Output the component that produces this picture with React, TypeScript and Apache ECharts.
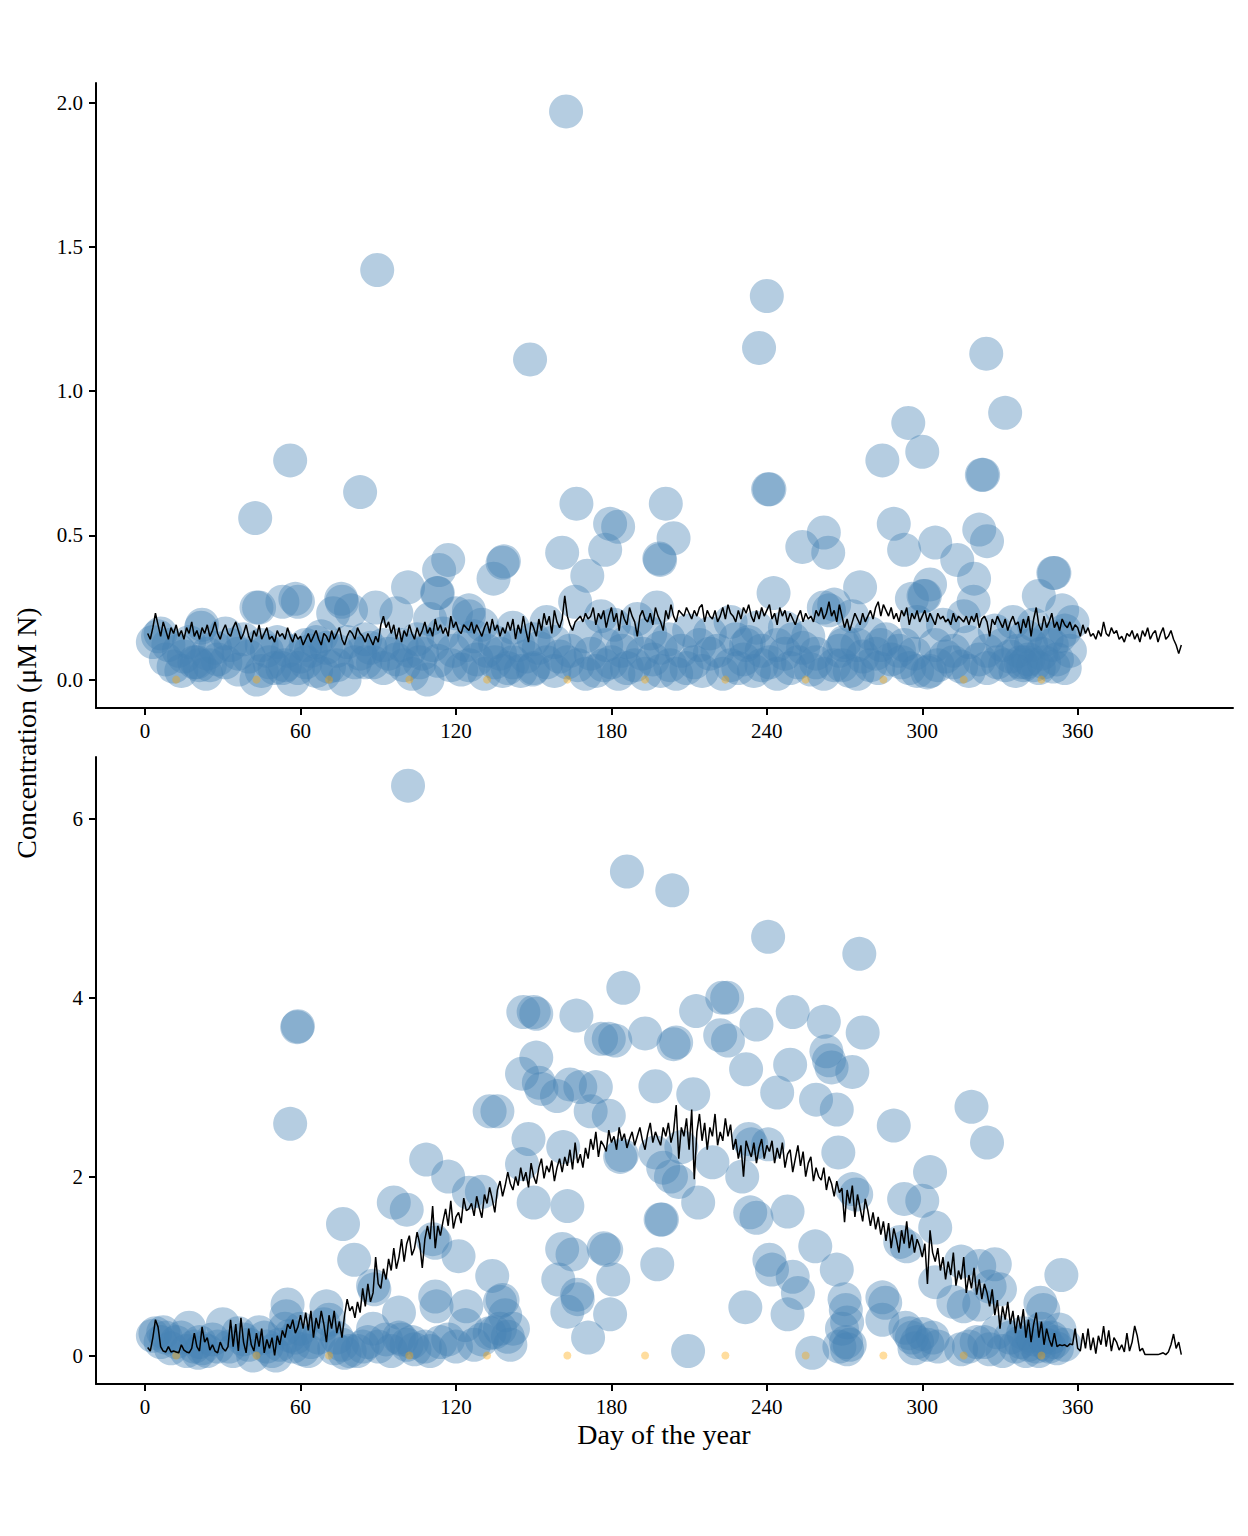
import React, { useEffect, useRef } from 'react';
import * as echarts from 'echarts';

// x ticks (day of year) and y ticks for each panel
const dayTicks = [0, 60, 120, 180, 240, 300, 360];
const topTicks = [0, 0.5, 1, 1.5, 2];
const bottomTicks = [0, 2, 4, 6];

// days of the small orange markers at zero
const markerDays = [12, 43, 71, 102, 132, 163, 193, 224, 255, 285, 316, 346];

// daily model line, top panel (days 1..400)
const topLine = [
  0.16, 0.14, 0.18, 0.23, 0.19, 0.15, 0.2, 0.17, 0.14, 0.18, 0.16, 0.19, 0.15, 0.17, 0.14, 0.18, 0.16, 0.2, 0.15, 0.17,
  0.14, 0.18, 0.16, 0.19, 0.15, 0.17, 0.2, 0.16, 0.14, 0.17, 0.19, 0.16, 0.15, 0.18, 0.2, 0.17, 0.14, 0.16, 0.19, 0.15,
  0.13, 0.17, 0.15, 0.19, 0.14, 0.16, 0.18, 0.14, 0.15, 0.13, 0.17, 0.15, 0.16, 0.14, 0.18, 0.15, 0.13, 0.16, 0.14, 0.15,
  0.12, 0.14, 0.16, 0.13, 0.15, 0.17, 0.14, 0.12, 0.16, 0.15, 0.13, 0.17, 0.14, 0.16, 0.18, 0.14, 0.12, 0.15, 0.17, 0.16,
  0.14, 0.18, 0.16, 0.15, 0.13, 0.16, 0.14, 0.12, 0.15, 0.13, 0.19, 0.22, 0.18, 0.2, 0.16, 0.19, 0.14, 0.18, 0.13, 0.17,
  0.15, 0.19, 0.16, 0.14, 0.18, 0.15, 0.17, 0.2, 0.16, 0.18, 0.15, 0.21, 0.17, 0.19, 0.16, 0.18, 0.15, 0.22, 0.18, 0.2,
  0.17, 0.16, 0.19, 0.18, 0.17, 0.2, 0.16, 0.19, 0.17, 0.15, 0.18, 0.2, 0.16, 0.21, 0.17, 0.19, 0.15, 0.18, 0.16, 0.2,
  0.17, 0.21, 0.14, 0.19, 0.16, 0.22, 0.17, 0.13, 0.2, 0.18, 0.15, 0.21, 0.17, 0.23, 0.19, 0.22, 0.16, 0.24, 0.2, 0.18,
  0.21, 0.29, 0.22, 0.19, 0.17, 0.2, 0.21, 0.22, 0.2, 0.23, 0.21, 0.22, 0.25, 0.19, 0.23, 0.21, 0.24, 0.18, 0.22, 0.25,
  0.2, 0.23, 0.17, 0.24, 0.21, 0.19, 0.25, 0.22, 0.2, 0.15, 0.22, 0.24, 0.21, 0.2, 0.23, 0.19, 0.25, 0.22, 0.2, 0.17,
  0.24, 0.21, 0.26, 0.22, 0.2, 0.24, 0.23, 0.22, 0.25, 0.23, 0.21, 0.24, 0.22, 0.25, 0.26, 0.2, 0.24, 0.22, 0.21, 0.24,
  0.2, 0.22, 0.25, 0.21, 0.26, 0.23, 0.22, 0.2, 0.24, 0.21, 0.25, 0.23, 0.26, 0.22, 0.2, 0.24, 0.21, 0.25, 0.22, 0.24,
  0.26, 0.21, 0.23, 0.19, 0.25, 0.22, 0.24, 0.2, 0.23, 0.21, 0.19, 0.22, 0.24, 0.2, 0.23, 0.21, 0.22, 0.2, 0.24, 0.22,
  0.25, 0.21, 0.23, 0.27, 0.22, 0.24, 0.2, 0.26, 0.22, 0.18, 0.21, 0.17, 0.2, 0.23, 0.21, 0.19, 0.23, 0.2, 0.22, 0.24,
  0.21, 0.25, 0.27, 0.22, 0.26, 0.24, 0.22, 0.25, 0.21, 0.23, 0.2, 0.24, 0.22, 0.25, 0.19, 0.23, 0.21, 0.24, 0.2, 0.22,
  0.24, 0.2, 0.23, 0.21, 0.19, 0.23, 0.21, 0.22, 0.2, 0.21, 0.19, 0.23, 0.2, 0.22, 0.21, 0.2, 0.22, 0.19, 0.22, 0.2,
  0.23, 0.18, 0.21, 0.22, 0.2, 0.15, 0.21, 0.19, 0.22, 0.2, 0.18, 0.21, 0.17, 0.2, 0.22, 0.19, 0.2, 0.16, 0.21, 0.18,
  0.22, 0.15, 0.21, 0.25, 0.19, 0.17, 0.22, 0.18, 0.2, 0.23, 0.18, 0.2, 0.17, 0.21, 0.19, 0.18, 0.2, 0.17, 0.19, 0.18,
  0.15, 0.19, 0.16, 0.18, 0.15, 0.16, 0.14, 0.17, 0.15, 0.2, 0.16, 0.15, 0.18, 0.16, 0.17, 0.14, 0.15, 0.13, 0.16, 0.15,
  0.17, 0.14, 0.16, 0.13, 0.17, 0.15, 0.18, 0.14, 0.16, 0.17, 0.13, 0.16, 0.18, 0.14, 0.15, 0.17, 0.14, 0.12, 0.09, 0.12,
];

// daily model line, bottom panel (days 1..400)
const bottomLine = [
  0.09, 0.05, 0.2, 0.4, 0.32, 0.1, 0.05, 0.04, 0.1, 0.04, 0.05, 0.04, 0.03, 0.12, 0.06, 0.04, 0.03, 0.08, 0.25, 0.1,
  0.05, 0.32, 0.15, 0.2, 0.06, 0.12, 0.05, 0.03, 0.15, 0.08, 0.05, 0.1, 0.4, 0.1, 0.35, 0.05, 0.42, 0.15, 0.03, 0.3,
  0.12, 0.05, 0.25, 0.1, 0.3, 0.03, 0.18, 0.08, 0.2, 0.0, 0.22, 0.12, 0.28, 0.2, 0.35, 0.3, 0.4, 0.25, 0.32, 0.45,
  0.3, 0.48, 0.28, 0.5, 0.2, 0.42, 0.3, 0.5, 0.35, 0.15, 0.45, 0.3, 0.5, 0.25, 0.38, 0.2, 0.45, 0.63, 0.5, 0.55,
  0.42, 0.6, 0.48, 0.75, 0.55, 0.8, 0.6, 0.7, 1.1, 0.8, 0.75, 0.97, 0.85, 1.08, 0.95, 1.2, 0.97, 1.1, 1.3, 1.05,
  1.25, 1.34, 1.12, 1.2, 1.38, 1.25, 0.98, 1.3, 1.45, 1.3, 1.67, 1.2, 1.45, 1.34, 1.5, 1.64, 1.45, 1.73, 1.42, 1.55,
  1.6, 1.48, 1.76, 1.62, 1.64, 1.7, 1.56, 1.78, 1.65, 1.54, 1.8, 1.7, 1.88, 1.75, 1.6, 1.85, 1.95, 1.78, 1.9, 2.05,
  1.92, 1.85, 2.0, 1.9, 2.1, 1.95, 2.05, 1.88, 2.15, 2.0, 1.92, 2.1, 2.2, 1.98, 2.12, 2.05, 2.18, 1.95, 2.1, 2.2,
  2.05, 2.22, 2.12, 2.3, 2.08, 2.38, 2.15, 2.25, 2.1, 2.32, 2.2, 2.42, 2.3, 2.5, 2.22, 2.4, 2.35, 2.28, 2.52, 2.38,
  2.45, 2.3, 2.55, 2.4, 2.48, 2.32, 2.42, 2.5, 2.35, 2.45, 2.55, 2.4, 2.3, 2.48, 2.6, 2.38, 2.5, 2.42, 2.35, 2.55,
  2.45, 2.6, 2.38, 2.5, 2.8, 2.2, 2.55, 2.45, 2.65, 2.3, 2.75, 1.97, 2.5, 2.7, 2.4, 2.6, 2.3, 2.55, 2.45, 2.7,
  2.35, 2.5, 2.4, 2.65, 2.45, 2.58, 2.3, 2.42, 2.2, 2.35, 2.0, 2.4, 2.3, 2.22, 2.38, 2.15, 2.32, 2.42, 2.2, 2.35,
  2.28, 2.4, 2.15, 2.32, 2.2, 2.38, 2.1, 2.25, 2.3, 2.05, 2.2, 2.35, 2.12, 2.28, 2.0, 2.15, 2.22, 1.95, 2.1, 2.0,
  1.96, 2.1, 1.85, 2.0, 1.92, 1.78, 1.95, 1.82, 1.87, 1.49, 1.85, 1.7, 1.9, 1.55, 1.8, 1.65, 1.5, 1.75, 1.62, 1.45,
  1.6, 1.41, 1.55, 1.35, 1.5, 1.28, 1.48, 1.2, 1.42, 1.3, 1.15, 1.4, 1.25, 1.5, 1.2, 1.35, 1.15, 1.3, 1.22, 1.1,
  1.25, 0.8, 1.4, 1.15, 1.05, 1.2, 0.95, 1.1, 0.85, 1.05, 0.9, 1.15, 0.78, 0.95, 0.85, 1.1, 0.7, 0.9, 0.75, 0.98,
  0.68, 0.85, 0.63, 0.8, 0.7, 0.55, 0.74, 0.45, 0.62, 0.3, 0.55, 0.4, 0.6, 0.35, 0.5, 0.25, 0.45, 0.3, 0.52, 0.2,
  0.4, 0.15, 0.35, 0.48, 0.2, 0.38, 0.12, 0.3, 0.18, 0.1, 0.25, 0.1, 0.12, 0.11, 0.12, 0.1, 0.13, 0.12, 0.3, 0.08,
  0.05, 0.25, 0.08, 0.3, 0.06, 0.2, 0.02, 0.22, 0.12, 0.33, 0.1, 0.28, 0.05, 0.2, 0.15, 0.06, 0.12, 0.04, 0.25, 0.05,
  0.15, 0.33, 0.22, 0.05, 0.08, 0.01, 0.01, 0.01, 0.01, 0.01, 0.01, 0.02, 0.03, 0.01, 0.04, 0.12, 0.24, 0.08, 0.15, 0.01,
];

// observations [day, concentration], top panel
const topObs = [
  [162.5, 1.97], [89.6, 1.42], [148.6, 1.11], [240, 1.33], [237, 1.15], [324.7, 1.13], [332, 0.925], [294.6, 0.89],
  [300, 0.79], [284.6, 0.76], [56, 0.76], [323, 0.71], [323.5, 0.71], [240.5, 0.66], [241, 0.66], [42.5, 0.56],
  [83, 0.65], [166.5, 0.61], [201, 0.61], [204, 0.49], [182.6, 0.53], [179.5, 0.54], [177.6, 0.45], [161, 0.44],
  [198.8, 0.415], [198.5, 0.42], [170.7, 0.36], [289, 0.54], [293, 0.45], [305, 0.475], [322, 0.52], [325, 0.48],
  [313.5, 0.415], [320, 0.35], [262, 0.51], [253.7, 0.46], [263.7, 0.44], [276, 0.32], [138, 0.405], [138.5, 0.41],
  [134.5, 0.35], [117, 0.415], [113.5, 0.38], [112.7, 0.3], [113, 0.3], [101.5, 0.32], [125, 0.24], [350.6, 0.37],
  [351, 0.37], [345, 0.29], [354, 0.24], [303, 0.33], [296, 0.28], [300.5, 0.29], [301, 0.29], [319.8, 0.27],
  [242.6, 0.3], [166, 0.27], [197.6, 0.25], [75.7, 0.28], [76, 0.27], [43, 0.25], [44, 0.25], [53, 0.27],
  [58, 0.28], [59, 0.27], [72.6, 0.23], [79.5, 0.24], [89, 0.25], [97, 0.23], [110, 0.21], [120, 0.23], [125, 0.22],
  [5, 0.15], [6, 0.16], [21.6, 0.18], [22, 0.19], [31, 0.16], [13, 0.1], [27, 0.11], [36, 0.09], [45, 0.12],
  [62, 0.12], [66, 0.13], [70, 0.11], [85, 0.14], [92, 0.12], [105, 0.14], [115, 0.16], [127, 0.15], [130, 0.19],
  [135, 0.13], [142, 0.18], [150, 0.14], [155, 0.2], [170, 0.15], [176, 0.22], [181, 0.19], [186, 0.13], [190, 0.21],
  [195, 0.16], [202, 0.14], [210, 0.17], [218, 0.16], [226, 0.2], [232, 0.12], [233, 0.13], [236, 0.18], [247, 0.18],
  [250, 0.14], [256, 0.15], [262, 0.25], [264, 0.24], [266, 0.26], [269.5, 0.12], [270, 0.13], [273, 0.22],
  [280, 0.16], [284, 0.12], [291, 0.1], [298, 0.2], [308, 0.19], [316, 0.22], [328, 0.17], [335, 0.2], [340, 0.15],
  [343, 0.19], [348, 0.14], [355, 0.17], [358, 0.2],
  [3, 0.13], [9, 0.12], [15, 0.08], [17, 0.13], [24, 0.09], [33, 0.12], [38, 0.14], [47, 0.1], [51, 0.13],
  [55, 0.1], [60, 0.08], [64, 0.1], [68, 0.15], [74, 0.1], [78, 0.13], [83, 0.09], [87, 0.11], [94, 0.09],
  [99, 0.12], [102, 0.1], [107, 0.09], [111, 0.12], [119, 0.1], [124, 0.12], [132, 0.1], [137, 0.09], [144, 0.12],
  [147, 0.08], [152, 0.11], [158, 0.13], [164, 0.1], [172, 0.09], [178, 0.12], [184, 0.1], [192, 0.09], [199, 0.11],
  [207, 0.1], [214, 0.12], [221, 0.1], [228, 0.14], [238, 0.1], [244, 0.12], [254, 0.11], [259, 0.09], [268, 0.1],
  [275, 0.12], [282, 0.09], [286, 0.14], [293, 0.12], [297, 0.09], [305, 0.12], [312, 0.1], [318, 0.13], [325, 0.1],
  [331, 0.12], [337, 0.1], [342, 0.12], [346, 0.09], [350, 0.12], [353, 0.15], [357, 0.1],
  [11, 0.045], [19, 0.06], [20, 0.06], [21, 0.05], [23.5, 0.02], [28, 0.07], [36, 0.035], [40, 0.08], [43, 0.0],
  [48, 0.06], [50, 0.04], [53, 0.04], [54, 0.05], [57, 0.0], [62, 0.06], [66, 0.03], [71, 0.045], [77, 0.0],
  [81, 0.06], [85, 0.06], [88, 0.06], [97, 0.07], [103, 0.02], [109, 0.0], [113, 0.065], [118, 0.05], [122, 0.035],
  [128, 0.07], [131, 0.02], [135, 0.06], [140, 0.04], [145, 0.03], [149.6, 0.035], [150, 0.04], [155, 0.06],
  [160, 0.08], [167, 0.05], [174, 0.03], [180, 0.06], [182.7, 0.02], [189, 0.05], [196, 0.07], [202.7, 0.05],
  [205, 0.02], [212, 0.06], [218, 0.09], [223, 0.02], [226, 0.05], [231, 0.07], [235, 0.03], [241, 0.06],
  [247, 0.09], [252, 0.06], [257, 0.035], [262, 0.02], [266, 0.05], [272, 0.03], [277, 0.08], [280, 0.05],
  [288, 0.07], [295, 0.04], [302, 0.025], [303, 0.03], [309, 0.08], [315, 0.045], [322, 0.07], [329, 0.06],
  [334, 0.08], [338, 0.06], [339, 0.05], [340, 0.06], [341, 0.07], [345, 0.04], [350.6, 0.045], [352, 0.07],
  [8, 0.07], [14, 0.03], [25, 0.05], [31, 0.06], [45, 0.03], [59, 0.04], [69, 0.02], [74, 0.05], [92, 0.04],
  [100, 0.05], [106, 0.06], [125, 0.05], [138, 0.03], [142, 0.06], [158, 0.03], [163, 0.06], [170, 0.02],
  [177, 0.05], [186, 0.04], [193, 0.02], [199, 0.03], [209, 0.04], [215, 0.03], [229, 0.04], [238, 0.05],
  [244, 0.02], [249, 0.04], [259, 0.06], [269, 0.05], [275, 0.02], [283, 0.04], [292, 0.06], [298, 0.03],
  [306, 0.05], [312, 0.06], [318, 0.03], [325, 0.04], [332, 0.05], [336, 0.03], [343, 0.05], [347, 0.06], [355, 0.04],
];

// observations [day, concentration], bottom panel
const bottomObs = [
  [101.5, 6.37], [186, 5.41], [203.5, 5.2], [240.5, 4.68], [275.7, 4.49], [184.6, 4.11], [222.8, 4.0], [224.7, 4.0],
  [212.7, 3.85], [146, 3.84], [150, 3.84], [151, 3.82], [166.5, 3.8], [58.7, 3.67], [59, 3.68], [193, 3.6],
  [204, 3.48], [205, 3.5], [222, 3.58], [225, 3.52], [236, 3.7], [176, 3.54], [179, 3.54], [181.5, 3.52],
  [250, 3.84], [262, 3.73], [277, 3.61], [263, 3.4], [264, 3.3], [265, 3.22], [273, 3.17], [244, 2.94], [259, 2.86],
  [267, 2.75], [249, 3.25], [232, 3.2], [151, 3.33], [152, 3.05], [153, 2.98], [145.5, 3.15], [164, 3.03],
  [168, 3.0], [174, 3.0], [159, 2.9], [172, 2.73], [179, 2.68], [197, 3.01], [211.6, 2.92], [136, 2.73], [56, 2.59],
  [319, 2.78], [325, 2.38], [289, 2.57], [267.6, 2.27], [233, 2.42], [234, 2.36], [240.5, 2.36], [148, 2.42],
  [145.5, 2.14], [161.4, 2.33], [183.4, 2.22], [184, 2.24], [197, 2.27], [200, 2.1], [203, 2.0], [206, 1.94],
  [207, 2.33], [219, 2.16], [230.5, 2.0], [303, 2.05], [108.5, 2.19], [117, 2.0], [125, 1.82], [130, 1.83],
  [133, 2.73], [96, 1.71], [101, 1.63], [150, 1.71], [163, 1.67], [213.5, 1.71], [199, 1.52], [199.5, 1.52],
  [233.6, 1.6], [236, 1.54], [248, 1.61], [273, 1.86], [274.5, 1.8], [293, 1.75], [300, 1.73], [305, 1.43],
  [76.4, 1.47], [80.7, 1.07], [111, 1.3], [112, 1.26], [121, 1.11], [161, 1.19], [165, 1.13], [177, 1.2],
  [178, 1.18], [241, 1.07], [242, 0.96], [258.7, 1.22], [267, 0.96], [291.5, 1.27], [294, 1.22], [315, 1.05],
  [322, 1.0], [328, 1.02], [353.7, 0.9], [88, 0.78], [88.5, 0.74], [134, 0.89], [159.5, 0.85], [180.7, 0.85],
  [197.7, 1.02], [166.8, 0.68], [167, 0.63], [250, 0.88], [252, 0.7], [248, 0.46], [231.7, 0.54], [284.6, 0.65],
  [285.7, 0.59], [305, 0.82], [312, 0.6], [316, 0.55], [322, 0.57], [326, 0.77], [330, 0.74], [345.6, 0.59],
  [346.7, 0.51], [112, 0.66], [112.5, 0.55], [124, 0.55], [137, 0.6], [138, 0.62], [139, 0.45], [163, 0.49],
  [179.5, 0.46], [270, 0.63], [270.5, 0.51], [271, 0.37], [55, 0.57], [54.5, 0.44], [70, 0.55], [98, 0.48],
  [284.6, 0.4], [353, 0.29],
  [4, 0.25], [7, 0.26], [8, 0.2], [12, 0.15], [17, 0.31], [20.5, 0.03], [21, 0.15], [22, 0.08], [30, 0.35],
  [32.5, 0.1], [38, 0.18], [41.7, 0.0], [44, 0.26], [47, 0.1], [50.5, 0.0], [54, 0.3], [56, 0.22], [58, 0.2],
  [61, 0.07], [64, 0.15], [71, 0.4], [74, 0.2], [77, 0.03], [79, 0.05], [86, 0.15], [88, 0.3], [93, 0.18],
  [98, 0.2], [99, 0.18], [104, 0.07], [108, 0.1], [117, 0.18], [123.6, 0.34], [130, 0.18], [135, 0.26],
  [140, 0.21], [142, 0.3], [171, 0.2], [209.6, 0.05], [257.5, 0.03], [268, 0.1], [270.6, 0.15], [271, 0.07],
  [293.5, 0.31], [296, 0.2], [298, 0.15], [300, 0.24], [302, 0.12], [315, 0.07], [321, 0.15], [326, 0.07],
  [329, 0.26], [338, 0.15], [340, 0.05], [342, 0.22], [344, 0.1], [346, 0.3], [348, 0.12], [350, 0.2], [352, 0.08],
  [3, 0.22], [6, 0.15], [10, 0.08], [14, 0.2], [16, 0.05], [19, 0.1], [24, 0.05], [26, 0.18], [28, 0.1],
  [34, 0.05], [36, 0.25], [40, 0.12], [46, 0.2], [49, 0.05], [52, 0.12], [57, 0.1], [60, 0.3], [63, 0.05],
  [67, 0.2], [69, 0.35], [73, 0.08], [76, 0.12], [82, 0.05], [84, 0.1], [90, 0.1], [95, 0.05], [101, 0.12],
  [103, 0.15], [110, 0.05], [114, 0.15], [120, 0.1], [127, 0.12], [133, 0.25], [137, 0.3], [141, 0.12],
  [334, 0.2], [336, 0.1], [339, 0.25], [341, 0.12], [343, 0.18], [345, 0.05], [347, 0.2], [349, 0.1], [351, 0.15],
  [355, 0.12], [331, 0.05], [324, 0.15], [318, 0.1], [306, 0.1], [304, 0.2], [297, 0.08], [295, 0.25], [272, 0.12],
  [269, 0.3],
];

const FONT = '"Liberation Serif", "Times New Roman", serif';

const xAxisBase = (gridIndex: number) => ({
  type: 'value' as const,
  gridIndex,
  min: -18.95,
  max: 419.95,
  axisLine: { show: true, onZero: false, lineStyle: { color: '#000', width: 2 } },
  axisTick: { show: true, length: 7, customValues: dayTicks, lineStyle: { color: '#000', width: 2 } },
  axisLabel: { customValues: dayTicks, margin: 12, color: '#000', fontSize: 21, fontFamily: FONT },
  splitLine: { show: false },
});

const yAxisBase = (gridIndex: number, min: number, max: number, ticks: number[], digits: number) => ({
  type: 'value' as const,
  gridIndex,
  min,
  max,
  axisLine: { show: true, onZero: false, lineStyle: { color: '#000', width: 2 } },
  axisTick: { show: true, length: 7, customValues: ticks, lineStyle: { color: '#000', width: 2 } },
  axisLabel: {
    customValues: ticks,
    margin: 13,
    color: '#000',
    fontSize: 21,
    fontFamily: FONT,
    formatter: (v: number) => v.toFixed(digits),
  },
  splitLine: { show: false },
});

const App: React.FC = () => {
  const chartRef = useRef<HTMLDivElement | null>(null);

  useEffect(() => {
    if (!chartRef.current) return;
    const chart = echarts.init(chartRef.current, undefined, { renderer: 'svg' });

    const toLine = (vals: number[]) => vals.map((v, i) => [i + 1, v]);
    const markers = markerDays.map((d) => [d, 0]);

    const obsStyle = { color: '#4682B4', opacity: 0.4 };
    const markerStyle = { color: '#FFA500', opacity: 0.38 };

    chart.setOption({
      animation: false,
      grid: [
        { left: 96, top: 83, width: 1137, height: 625 },
        { left: 96, top: 757, width: 1137, height: 627 },
      ],
      xAxis: [xAxisBase(0), xAxisBase(1)],
      yAxis: [
        yAxisBase(0, -0.0985, 2.0685, topTicks, 1),
        yAxisBase(1, -0.3185, 6.69, bottomTicks, 0),
      ],
      series: [
        { type: 'scatter', xAxisIndex: 0, yAxisIndex: 0, data: topObs, symbolSize: 34, itemStyle: obsStyle, silent: true },
        { type: 'scatter', xAxisIndex: 0, yAxisIndex: 0, data: markers, symbolSize: 8, itemStyle: markerStyle, silent: true },
        {
          type: 'line', xAxisIndex: 0, yAxisIndex: 0, data: toLine(topLine), showSymbol: false,
          lineStyle: { color: '#000', width: 1.5 }, silent: true,
        },
        { type: 'scatter', xAxisIndex: 1, yAxisIndex: 1, data: bottomObs, symbolSize: 34, itemStyle: obsStyle, silent: true },
        { type: 'scatter', xAxisIndex: 1, yAxisIndex: 1, data: markers, symbolSize: 8, itemStyle: markerStyle, silent: true },
        {
          type: 'line', xAxisIndex: 1, yAxisIndex: 1, data: toLine(bottomLine), showSymbol: false,
          lineStyle: { color: '#000', width: 1.5 }, silent: true,
        },
      ],
      graphic: [
        {
          type: 'text',
          x: 26,
          y: 733,
          rotation: Math.PI / 2,
          style: {
            text: 'Concentration (μM N)',
            fill: '#000',
            font: `28px ${FONT}`,
            textAlign: 'center',
            textVerticalAlign: 'middle',
          },
        },
        {
          type: 'text',
          x: 664,
          y: 1434,
          style: {
            text: 'Day of the year',
            fill: '#000',
            font: `28px ${FONT}`,
            textAlign: 'center',
            textVerticalAlign: 'middle',
          },
        },
      ],
    });

    return () => {
      chart.dispose();
    };
  }, []);

  return (
    <div
      ref={chartRef}
      style={{ position: 'absolute', left: 0, top: 0, width: '1248px', height: '1536px', background: '#fff' }}
    />
  );
};

export default App;
